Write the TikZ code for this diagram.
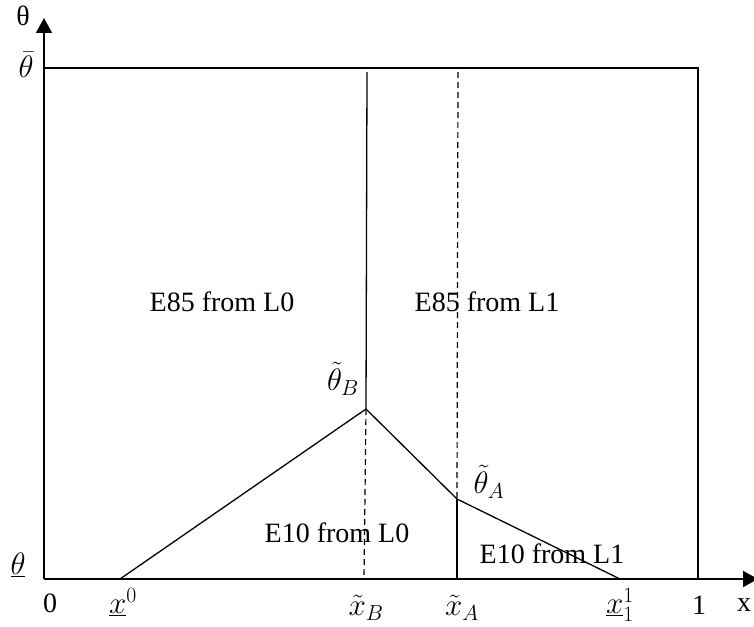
\RequirePackage{fix-cm}
\documentclass[tikz,border=0pt]{standalone}
\usepackage{fontspec}
\setmainfont{Liberation Serif}
\usetikzlibrary{arrows.meta}
\begin{document}
\begin{tikzpicture}[x=1pt,y=-1pt,
  ln/.style={line width=1.3pt,black},
  dsh/.style={line width=1.2pt,black,dash pattern=on 6pt off 4pt},
  ax/.style={line width=1.5pt,black,-{Triangle[length=15pt,width=16pt]}},
  lbl/.style={inner sep=0pt,font=\fontsize{28}{32}\selectfont},
  mlbl/.style={inner sep=0pt,font=\fontsize{31}{35}\selectfont}]
\useasboundingbox (0,0) rectangle (754,626);
% key coordinates
\coordinate (O) at (44,579);
\coordinate (ytip) at (44,18);
\coordinate (xtip) at (758,579);
\coordinate (TL) at (44,68);
\coordinate (TR) at (698,68);
\coordinate (BR) at (698,579);
\coordinate (X0) at (120,579);
\coordinate (B) at (366,409);
\coordinate (Btop) at (367,72);
\coordinate (Bbot) at (364,579);
\coordinate (A) at (457,499);
\coordinate (Atop) at (458,72);
\coordinate (Abot) at (457,579);
\coordinate (X1) at (620,579);
% axes
\draw[ax] (O) -- (ytip);
\draw[ax] (O) -- (xtip);
% frame
\draw[ln] (TL) -- (TR) -- (BR);
% boundaries
\draw[ln] (Btop) -- (B);
\draw[dsh] (B) -- (Bbot);
\draw[dsh] (Atop) -- (A);
\draw[ln] (A) -- (Abot);
\draw[ln] (X0) -- (B) -- (A) -- (X1);
% axis labels
\node[lbl] (lth) at (23,16) {θ};
\node[mlbl] (lthbar) at (26,65) {$\bar{\theta}$};
\node[mlbl] (lthund) at (18,565) {$\underline{\theta}$};
\node[lbl] (l0) at (50,603) {0};
\node[mlbl] (lx0) at (123,602) {$\underline{x}^0$};
\node[mlbl] (lxB) at (366,608) {$\tilde{x}_B$};
\node[mlbl] (lxA) at (462,608) {$\tilde{x}_A$};
\node[mlbl] (lx1) at (620,605) {$\underline{x}_1^1$};
\node[lbl] (l1) at (699,605) {1};
\node[lbl] (lx) at (744,605) {x};
\node[mlbl] (lthB) at (343,379) {$\tilde{\theta}_B$};
\node[mlbl] (lthA) at (489,482) {$\tilde{\theta}_A$};
% region labels
\node[lbl,anchor=base] (r1) at (222,311) {E85 from L0};
\node[lbl,anchor=base] (r2) at (487,311) {E85 from L1};
\node[lbl,anchor=base] (r3) at (337,542) {E10 from L0};
\node[lbl,anchor=base] (r4) at (552,563) {E10 from L1};
\end{tikzpicture}
\end{document}
